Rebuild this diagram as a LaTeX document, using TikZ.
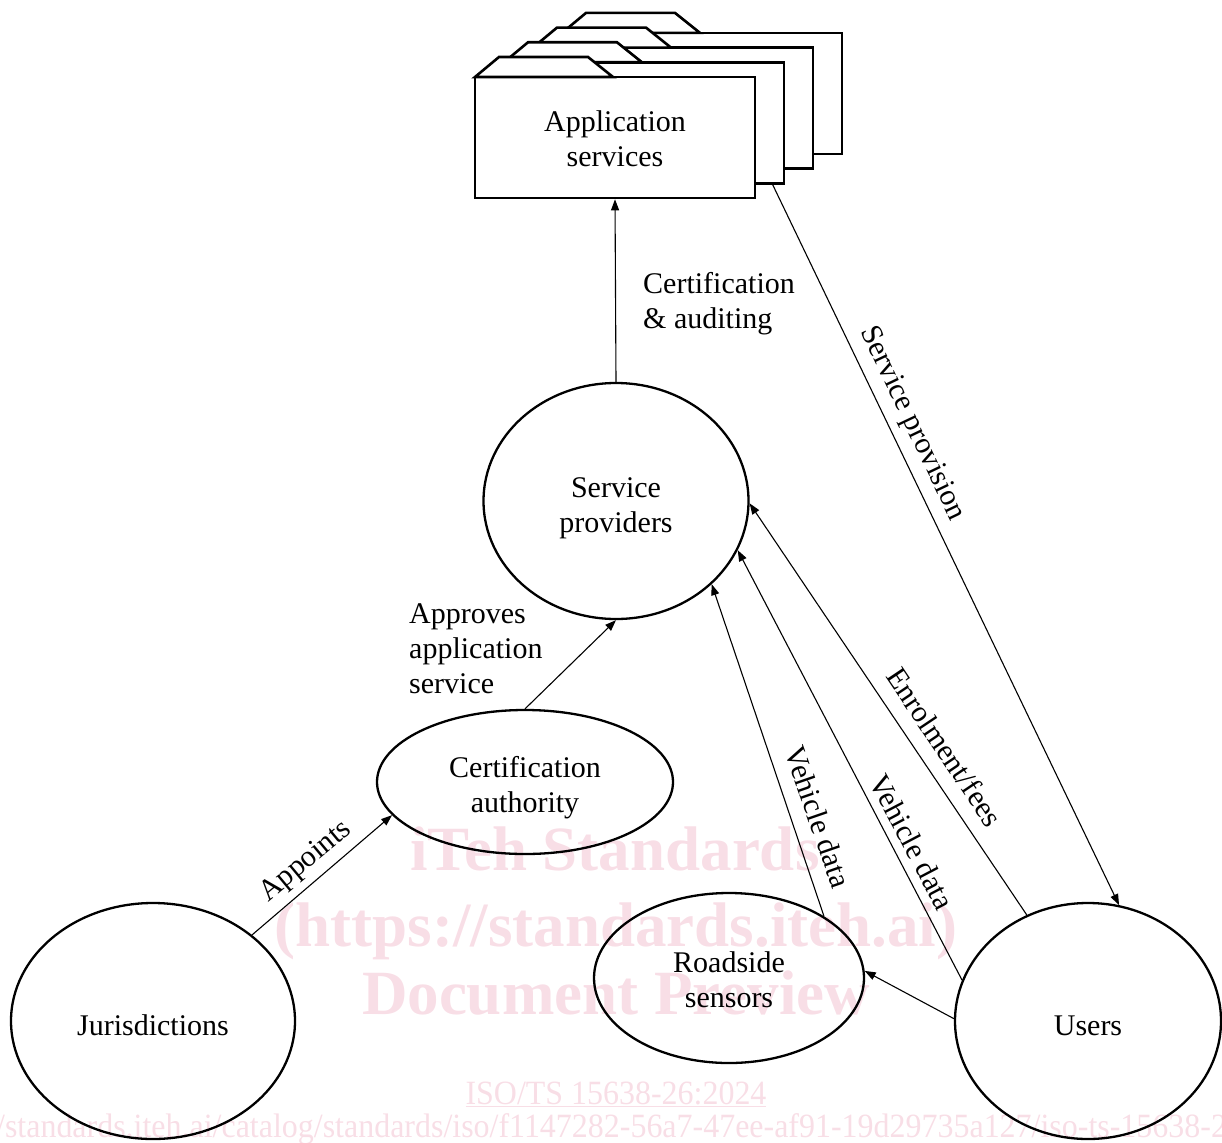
\documentclass[tikz,border=0pt]{standalone}
\usepackage{fontspec}
\setmainfont{Liberation Serif}
\newfontfamily\wmfont{Liberation Serif}[FakeStretch=0.94]
\usetikzlibrary{shapes.geometric,arrows.meta}
\definecolor{wmpink}{RGB}{248,222,230}
\newcommand{\downtext}[2]{\raisebox{0pt}[\dimexpr\height+#1\relax]{\begin{tabular}{@{}c@{}}#2\end{tabular}}}
\begin{document}
\begin{tikzpicture}[x=1pt,y=-1pt,
  ell/.style={draw, ellipse, line width=2.3pt, inner sep=0pt, align=center, font=\fontsize{30}{35}\selectfont},
  conn/.style={line width=1.1pt, -{Triangle[length=11pt,width=8pt]}},
  lbl/.style={font=\fontsize{30}{35}\selectfont, inner sep=0pt},
  appbox/.style={draw, fill=white, line width=2.6pt, minimum width=280pt, minimum height=121pt, inner sep=0pt, align=center, font=\fontsize{30}{35}\selectfont},
  tabshape/.style={draw, fill=white, line width=2.6pt, line join=miter},
  wmbig/.style={text=wmpink, inner sep=0pt, anchor=base, font=\fontsize{63}{70}\selectfont\bfseries},
  wmsmall/.style={text=wmpink, inner sep=0pt, font=\wmfont\fontsize{34}{38}\selectfont}
]
\useasboundingbox (0,0) rectangle (1222,1142);

% watermark
\node[wmbig] (wm1) at (615,870) {iTeh Standards};
\node[wmbig] (wm2) at (616,946) {(https://standards.iteh.ai)};
\node[wmbig] (wm3) at (616,1014) {Document Preview};
\node[wmsmall, anchor=base] (wm4) at (616,1104) {\underline{ISO/TS 15638-26:2024}};
\node[wmsmall, anchor=base west] (wm5) at (-84,1137) {https://standards.iteh.ai/catalog/standards/iso/f1147282-56a7-47ee-af91-19d29735a127/iso-ts-15638-26-2024};

% application services stack
\foreach \k in {3,2,1} {
  \node[appbox] (app\k) at (615+29*\k, 137.5-14.7*\k) {};
  \draw[tabshape] (475+29*\k, 77-14.7*\k) -- ++(24,-20) -- ++(89,0) -- ++(25,20) -- cycle;
}
\node[appbox] (app) at (615,137.5) {\downtext{10pt}{Application\\services}};
\draw[tabshape] (475,77) -- ++(24,-20) -- ++(89,0) -- ++(25,20) -- cycle;
\coordinate (provstart) at (772,183.3);

% ellipses
\node[ell, minimum width=265pt, minimum height=236pt] (sp) at (616,501) {\downtext{13pt}{Service\\providers}};
\node[ell, minimum width=296pt, minimum height=144pt] (ca) at (525,782) {\downtext{12pt}{Certification\\authority}};
\node[ell, minimum width=284pt, minimum height=236pt] (jur) at (153,1021) {\downtext{14pt}{Jurisdictions}};
\node[ell, minimum width=270pt, minimum height=170pt] (rs) at (729,978) {\downtext{10pt}{Roadside\\sensors}};
\node[ell, minimum width=266pt, minimum height=236pt] (users) at (1088,1021) {\downtext{14pt}{Users}};

% connectors
\draw[conn] (sp.north) -- (app.south);
\draw[conn] (provstart) -- (users.75);
\draw[conn] (ca.north) -- (sp.south);
\draw[conn] (jur.41.3) -- (ca.194.2);
\draw[conn] (users.179) -- (rs.3.4);
\draw[conn] (rs.33.6) -- (sp.-41.4);
\draw[conn] (users.162.7) -- (sp.-22.5);
\draw[conn] (users.120) -- (sp.-1);

% labels
\node[lbl, anchor=west, align=left] (lcert) at (643,304) {Certification\\\& auditing};
\node[lbl, anchor=west, align=left] (lappr) at (409,649) {Approves\\application\\service};
\node[lbl, rotate=-64.5] (lprov) at (912,424) {Service provision};
\node[lbl, rotate=39.8] (lappt) at (306,862) {Appoints};
\node[lbl, rotate=-70.9] (lveh1) at (818,817) {Vehicle data};
\node[lbl, rotate=-62.3] (lveh2) at (912,842) {Vehicle data};
\node[lbl, rotate=-56.1] (lenr) at (945,747) {Enrolment/fees};
\end{tikzpicture}
\end{document}
